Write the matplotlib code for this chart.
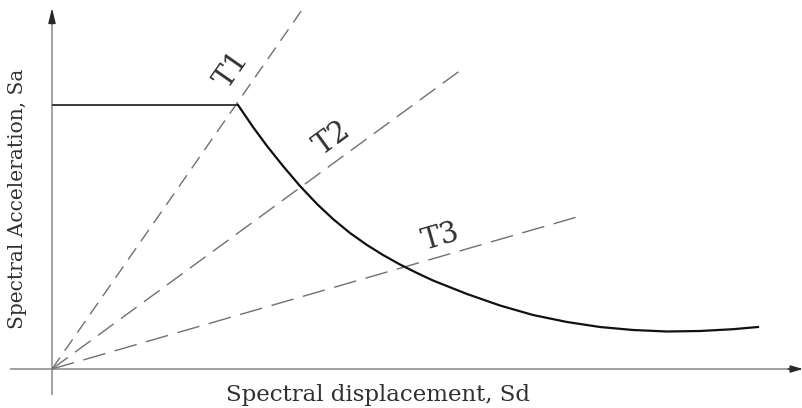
import matplotlib
matplotlib.use("Agg")
import matplotlib.pyplot as plt
import numpy as np

# Capacity-style spectrum: plateau then descending branch (Sd, Sa in arbitrary units)
plateau_sd = [0.0, 1.86]
plateau_sa = [2.64, 2.64]

curve_sd = [1.86, 2.01, 2.15, 2.31, 2.48, 2.65, 2.81, 2.98, 3.15, 3.31,
            3.48, 3.65, 3.81, 4.15, 4.48, 4.81, 5.15, 5.48, 5.81, 6.15,
            6.48, 6.81, 7.06]
curve_sa = [2.64, 2.42, 2.23, 2.03, 1.83, 1.65, 1.50, 1.36, 1.24, 1.14,
            1.045, 0.96, 0.885, 0.75, 0.635, 0.54, 0.47, 0.42, 0.39, 0.375,
            0.38, 0.398, 0.42]

# Constant-period radial lines from the origin
period_labels = ["T1", "T2", "T3"]
period_end_sd = [2.52, 4.13, 5.25]
period_end_sa = [3.62, 3.02, 1.52]
label_sd = [1.80, 2.80, 3.89]
label_sa = [2.99, 2.31, 1.32]

fig = plt.figure(figsize=(8.03, 4.08), dpi=100)
ax = fig.add_axes([0, 0, 1, 1])
ax.set_xlim(-0.52, 7.51)
ax.set_ylim(-0.39, 3.69)
ax.axis("off")

axis_col = "#9a9a9a"
head_col = "#2a2a2a"
text_col = "#303030"
serif = ["DejaVu Serif"]

# Coordinate axes with arrowheads
ax.plot([-0.42, 7.40], [0, 0], color=axis_col, lw=1.3, solid_capstyle="butt")
ax.plot([0, 0], [-0.26, 3.50], color=axis_col, lw=1.3, solid_capstyle="butt")
ax.annotate("", xy=(7.51, 0), xytext=(7.36, 0),
            arrowprops=dict(arrowstyle="-|>,head_length=0.75,head_width=0.22",
                            color=head_col, lw=1.0, shrinkA=0, shrinkB=0))
ax.annotate("", xy=(0, 3.61), xytext=(0, 3.45),
            arrowprops=dict(arrowstyle="-|>,head_length=0.9,head_width=0.22",
                            color=head_col, lw=1.0, shrinkA=0, shrinkB=0))

# Period lines, dash length grows as the lines flatten
dash_styles = [(0, (10, 6)), (0, (14, 6.5)), (0, (16.5, 7))]
for sd, sa, ls in zip(period_end_sd, period_end_sa, dash_styles):
    ax.plot([0, sd], [0, sa], color="#707070", lw=1.0, linestyle=ls)

# Spectrum
ax.plot(plateau_sd, plateau_sa, color="#3a3a3a", lw=1.4, solid_capstyle="butt")
ax.plot(curve_sd, curve_sa, color="#111111", lw=1.6, solid_joinstyle="round")

# Period labels aligned with their lines
for lab, x, y, sd, sa in zip(period_labels, label_sd, label_sa,
                             period_end_sd, period_end_sa):
    ang = np.degrees(np.arctan2(sa, sd))
    ax.text(x, y, lab, rotation=ang, rotation_mode="anchor",
            ha="center", va="center", fontsize=21, color=text_col,
            family=serif)

ax.text(3.26, -0.255, "Spectral displacement, Sd", ha="center", va="center",
        fontsize=16.5, color=text_col, family=serif)
ax.text(-0.34, 1.70, "Spectral Acceleration, Sa", ha="center", va="center",
        rotation=90, fontsize=14.5, color=text_col, family=serif)

fig.savefig("out.png", dpi=100)
